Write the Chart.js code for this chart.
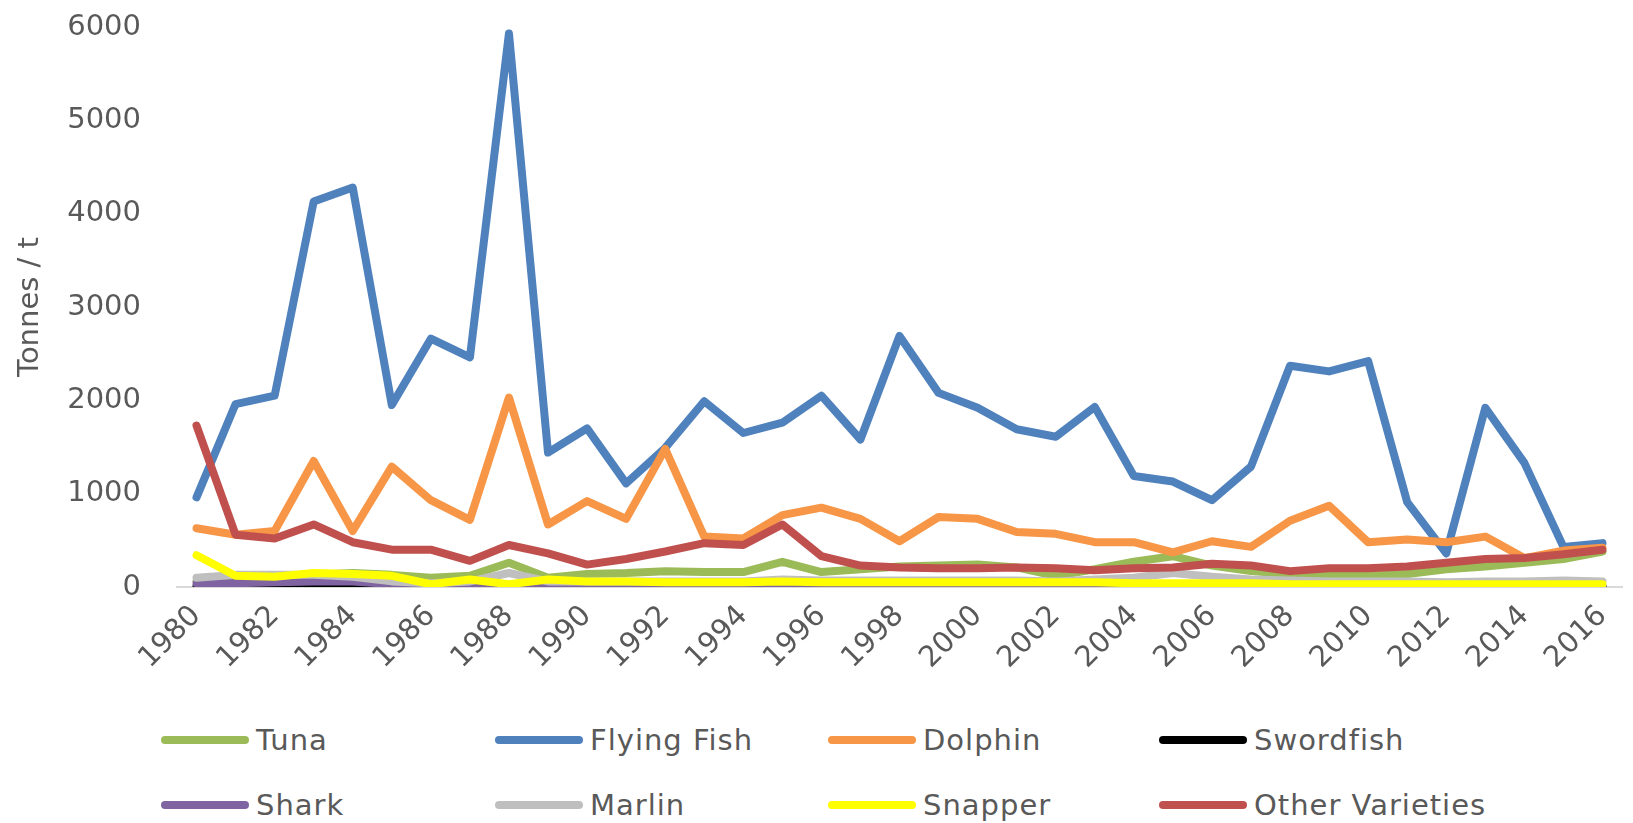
<!DOCTYPE html>
<html>
<head>
<meta charset="utf-8">
<script src="https://cdn.jsdelivr.net/npm/chart.js@4/dist/chart.umd.min.js"></script>
<style>
  body { margin: 0; background: #fff; }
  #wrap { position: relative; width: 1633px; height: 823px; }
  #box { position: absolute; left: 0; top: 0; width: 1633px; height: 700px; }
  .item { position: absolute; height: 40px; display: flex; align-items: center;
          font: 29px "DejaVu Sans", sans-serif; letter-spacing: 1px; color: #595959; }
  .swatch { width: 88px; height: 8px; border-radius: 4px; margin-right: 7px; }
</style>
</head>
<body>
<div id="wrap">
  <div id="box"><canvas id="fishChart"></canvas></div>
  <div id="legend"></div>
</div>
<script>
// data
const years = [];
for (let y = 1980; y <= 2016; y++) years.push(String(y));

const seriesNames = ['Tuna', 'Flying Fish', 'Dolphin', 'Swordfish', 'Shark', 'Marlin', 'Snapper', 'Other Varieties'];
const seriesColors = ['#9BBB59', '#4F81BD', '#F79646', '#000000', '#8064A2', '#BFBFBF', '#FFFF00', '#C0504D'];

const tuna = [60, 90, 100, 130, 150, 130, 100, 120, 260, 100, 140, 150, 170, 160, 160, 270, 160, 190, 220, 230,
  240, 210, 120, 190, 270, 330, 230, 170, 140, 120, 120, 140, 190, 220, 260, 300, 380];
const flyingFish = [960, 1960, 2050, 4130, 4280, 1950, 2660, 2460, 5930, 1440, 1700, 1110, 1490, 1990, 1650, 1760, 2050, 1580, 2690, 2080,
  1920, 1690, 1610, 1930, 1190, 1130, 930, 1290, 2370, 2310, 2420, 910, 360, 1920, 1330, 430, 470];
const dolphin = [630, 560, 600, 1350, 600, 1290, 930, 720, 2030, 670, 920, 730, 1480, 540, 520, 770, 850, 730, 490, 750,
  730, 590, 570, 480, 480, 370, 490, 430, 710, 870, 480, 510, 480, 540, 310, 390, 420];
const swordfish = [10, 10, 10, 20, 20, 10, 10, 10, 10, 10, 5, 5, 5, 5, 5, 5, 5, 5, 5, 5,
  5, 5, 5, 5, 5, 5, 5, 5, 5, 5, 5, 5, 5, 5, 5, 5, 5];
const shark = [40, 40, 50, 60, 60, 30, 20, 10, 20, 10, 10, 10, 10, 10, 10, 20, 10, 10, 10, 10,
  10, 10, 10, 10, 10, 20, 20, 10, 10, 10, 10, 10, 10, 10, 10, 10, 10];
const marlin = [100, 130, 130, 130, 110, 60, 40, 60, 150, 60, 60, 60, 60, 60, 60, 80, 70, 70, 70, 70,
  70, 70, 60, 80, 100, 150, 110, 80, 70, 60, 60, 60, 50, 60, 60, 70, 60];
const snapper = [340, 120, 110, 150, 140, 120, 30, 80, 30, 80, 60, 60, 50, 50, 50, 60, 50, 50, 50, 50,
  50, 50, 50, 50, 40, 40, 40, 40, 30, 30, 30, 30, 30, 30, 30, 30, 30];
const other = [1730, 560, 520, 670, 480, 400, 400, 280, 450, 360, 240, 300, 380, 470, 450, 670, 330, 230, 210, 200,
  200, 210, 200, 180, 200, 210, 250, 230, 170, 200, 200, 220, 260, 300, 310, 350, 400];

const seriesData = [tuna, flyingFish, dolphin, swordfish, shark, marlin, snapper, other];
const yTicks = [0, 1000, 2000, 3000, 4000, 5000, 6000];

const textColor = '#595959';
const font = { family: '"DejaVu Sans", sans-serif', size: 29 };

// later series sit on top, like in the original
const datasets = seriesNames.map((name, i) => ({
  label: name,
  data: seriesData[i],
  borderColor: seriesColors[i],
  backgroundColor: seriesColors[i],
  borderWidth: 8,
  borderCapStyle: 'round',
  borderJoinStyle: 'round',
  pointRadius: 0,
  tension: 0,
  order: seriesNames.length - i
}));

new Chart(document.getElementById('fishChart'), {
  type: 'line',
  data: { labels: years, datasets: datasets },
  options: {
    responsive: true,
    maintainAspectRatio: false,
    animation: false,
    layout: { padding: { top: 27, right: 11, left: 0, bottom: 0 } },
    plugins: { legend: { display: false }, tooltip: { enabled: false } },
    scales: {
      x: {
        offset: true,
        grid: { display: false },
        border: { color: '#D9D9D9', width: 2 },
        ticks: {
          autoSkip: false,
          maxRotation: 45,
          minRotation: 45,
          padding: 4,
          color: textColor,
          font: font,
          callback: (v, i) => (i % 2 === 0 ? years[i] : '')
        },
        afterFit: (scale) => { scale.height = 113; }
      },
      y: {
        min: 0,
        max: 6000,
        afterBuildTicks: (scale) => { scale.ticks = yTicks.map(v => ({ value: v })); },
        grid: { display: false },
        border: { display: false },
        ticks: { color: textColor, font: font, padding: 28, callback: (v) => String(v) },
        title: {
          display: true,
          text: 'Tonnes / t',
          color: textColor,
          font: font,
          padding: { top: 13, bottom: 0 }
        },
        afterFit: (scale) => {
          scale.width = 177;
          scale.paddingTop = 0;
          scale.paddingBottom = 0;
        }
      }
    }
  }
});

// legend in 4 fixed columns, 2 rows
const legendEl = document.getElementById('legend');
const colX = [161, 495, 828, 1159];
const rowY = [740, 805];
seriesNames.forEach((name, i) => {
  const item = document.createElement('div');
  item.className = 'item';
  item.style.left = colX[i % 4] + 'px';
  item.style.top = (rowY[Math.floor(i / 4)] - 20) + 'px';
  item.innerHTML = '<span class="swatch" style="background:' + seriesColors[i] + '"></span>' + name;
  legendEl.appendChild(item);
});
</script>
</body>
</html>
